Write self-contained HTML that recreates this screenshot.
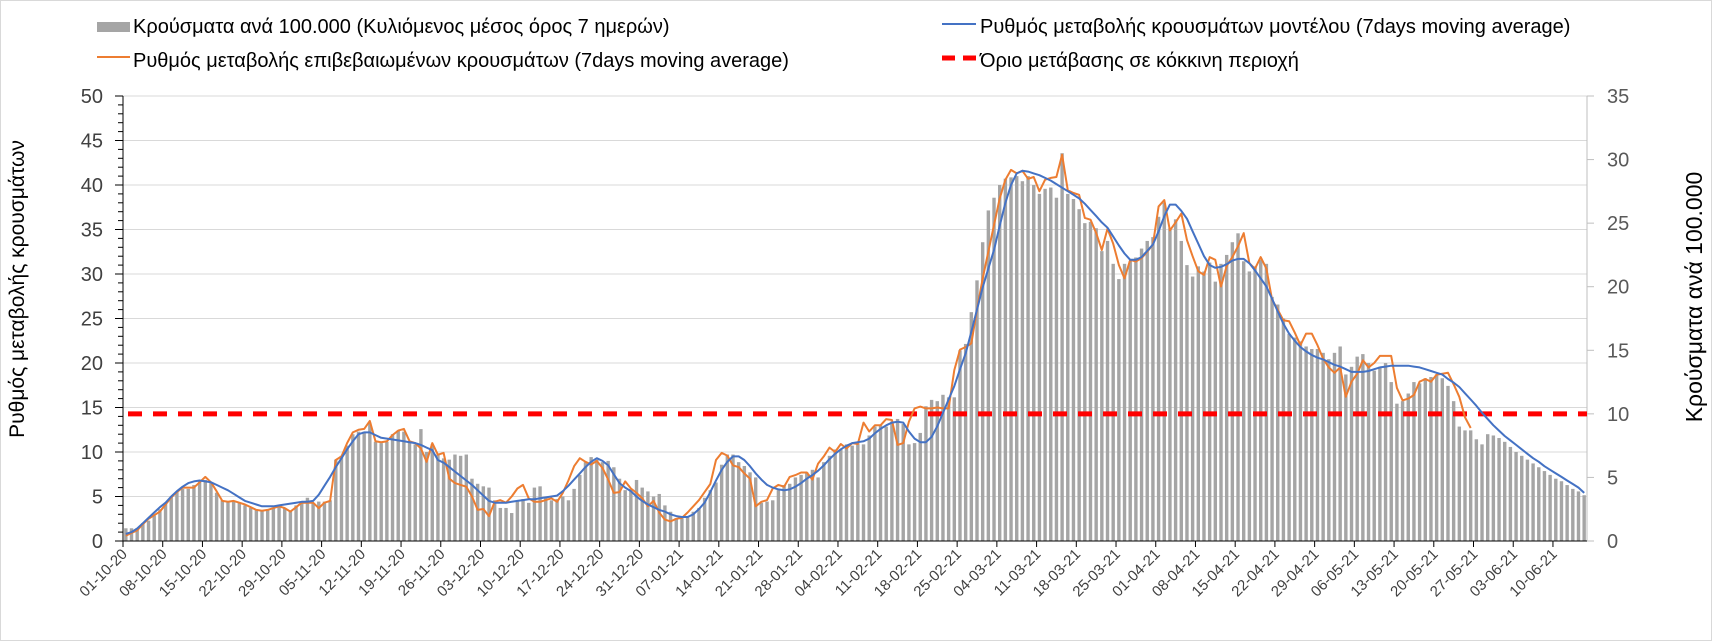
<!DOCTYPE html>
<html><head><meta charset="utf-8"><style>
html,body{margin:0;padding:0;background:#fff;}
svg{display:block;font-family:"Liberation Sans",sans-serif;}
</style></head><body>
<svg id="chart" width="1712" height="641" viewBox="0 0 1712 641" xmlns="http://www.w3.org/2000/svg">
<rect x="0.5" y="0.5" width="1711" height="640" fill="#fff" stroke="#d9d9d9"/>
<g id="grid"></g>
<g id="bars"></g>
<g id="axes"></g>
<g id="lines"></g>
<g font-size="20" fill="#000">
<g><rect x="97" y="22" width="33" height="10" fill="#a5a5a5"/><text x="133" y="33">Κρούσματα ανά 100.000 (Κυλιόμενος μέσος όρος 7 ημερών)</text></g>
<g><line x1="97" y1="57" x2="130" y2="57" stroke="#ed7d31" stroke-width="2"/><text x="133" y="67">Ρυθμός μεταβολής επιβεβαιωμένων κρουσμάτων (7days moving average)</text></g>
<g><line x1="942" y1="24" x2="976" y2="24" stroke="#4472c4" stroke-width="2"/><text x="980" y="33">Ρυθμός μεταβολής κρουσμάτων μοντέλου (7days moving average)</text></g>
<g><line x1="942" y1="58" x2="976" y2="58" stroke="#ff0000" stroke-width="5" stroke-dasharray="13,8"/><text x="980" y="67">Όριο μετάβασης σε κόκκινη περιοχή</text></g>
</g>
<text transform="translate(24,289) rotate(-90)" text-anchor="middle" font-size="21" fill="#000">Ρυθμός μεταβολής κρουσμάτων</text>
<text transform="translate(1702,297) rotate(-90)" text-anchor="middle" font-size="23" fill="#000">Κρούσματα ανά 100.000</text>
</svg>
<script>
const cases = [1.0,1.0,1.0,1.4,1.6,2.0,2.5,2.9,3.5,3.9,
4.1,4.1,4.4,4.8,4.8,4.6,3.8,3.2,3.1,3.1,
3.0,2.8,2.6,2.5,2.4,2.5,2.6,2.7,2.6,2.4,
2.8,3.0,3.4,3.0,3.1,3.1,3.2,6.4,6.7,7.5,
8.4,8.6,8.6,9.3,7.8,7.7,7.8,8.4,8.7,8.6,
7.8,7.6,8.8,7.0,7.6,6.8,6.5,6.4,6.8,6.7,
6.8,4.9,4.5,4.3,4.2,3.2,2.6,2.6,2.2,3.1,
3.3,3.0,4.2,4.3,3.4,3.2,3.3,3.5,3.2,4.1,
5.2,6.2,6.6,6.4,6.2,6.3,5.8,4.9,4.0,4.1,
4.8,4.2,3.9,3.5,3.7,2.8,2.3,1.8,1.8,1.9,
2.3,2.6,3.4,4.0,4.6,6.0,6.8,6.8,6.2,5.9,
5.4,5.0,3.0,3.1,3.2,4.0,4.4,4.5,5.0,5.2,
5.4,5.6,5.0,6.2,6.7,7.2,7.2,7.6,7.5,7.7,
7.6,8.3,9.0,9.1,9.0,9.4,9.6,9.2,7.6,7.7,
8.5,10.6,11.1,11.0,11.5,11.3,11.3,15.0,15.5,18.0,
20.5,23.5,26.0,27.0,28.0,28.5,28.6,28.7,28.3,28.7,
28.0,27.3,27.7,27.8,27.0,30.5,27.3,26.9,26.1,25.0,
25.1,24.6,22.8,23.6,21.8,20.6,21.8,22.0,22.3,23.0,
23.6,23.9,25.5,26.6,24.6,25.3,23.6,21.7,20.8,21.6,
21.2,21.9,20.4,21.8,22.5,23.5,24.2,22.0,21.2,21.6,
22.1,21.8,19.2,18.6,17.5,16.3,16.0,15.7,15.3,15.1,
15.1,14.8,14.3,14.8,15.3,13.1,13.7,14.5,14.7,14.0,
13.4,13.7,14.0,12.5,10.8,11.0,11.6,12.5,12.4,12.8,
12.9,13.1,12.8,12.2,11.0,9.0,8.7,8.7,8.0,7.6,
8.4,8.3,8.1,7.8,7.4,7.0,6.7,6.4,6.1,5.8,
5.5,5.2,4.9,4.7,4.4,4.1,3.9,3.6];
const modelRate = [0.8,1.0,1.4,2.0,2.6,3.2,3.8,4.3,5.0,5.6,
6.1,6.5,6.7,6.8,6.7,6.6,6.3,6.0,5.7,5.3,
4.9,4.5,4.3,4.1,3.9,3.9,3.9,4.0,4.1,4.2,
4.3,4.4,4.4,4.5,5.2,6.2,7.2,8.3,9.3,10.3,
11.2,12.0,12.2,12.2,11.9,11.6,11.5,11.4,11.3,11.2,
11.1,11.0,10.8,10.5,10.2,9.1,8.8,8.3,7.8,7.3,
6.8,6.3,5.7,5.1,4.5,4.3,4.3,4.3,4.4,4.5,
4.6,4.7,4.7,4.8,4.9,5.0,5.1,5.6,6.2,6.9,
7.6,8.3,8.9,9.3,9.0,8.5,7.5,6.5,6.0,5.6,
5.0,4.5,4.1,3.8,3.5,3.3,3.0,2.8,2.7,2.7,
3.0,3.6,4.3,5.5,6.8,8.0,8.9,9.5,9.5,9.1,
8.4,7.6,6.9,6.3,6.0,5.8,5.7,5.8,6.1,6.5,
7.0,7.4,7.9,8.5,9.2,9.8,10.3,10.7,11.0,11.1,
11.2,11.5,12.1,12.6,13.0,13.3,13.4,13.3,12.3,11.5,
11.1,11.1,11.7,12.9,14.4,15.9,17.4,19.3,21.1,23.5,
26.0,28.5,30.6,32.7,35.4,38.0,40.0,41.3,41.6,41.5,
41.3,41.1,40.8,40.5,40.1,39.7,39.3,38.9,38.5,37.9,
37.2,36.5,35.8,35.2,34.2,33.2,32.3,31.6,31.6,31.9,
32.6,33.3,34.8,36.5,37.8,37.8,37.1,36.2,34.8,33.4,
32.0,31.0,30.7,30.8,31.1,31.5,31.7,31.7,31.2,30.4,
29.5,28.6,27.2,25.8,24.4,23.3,22.5,21.8,21.3,20.9,
20.6,20.4,20.1,19.8,19.6,19.3,19.0,19.0,19.0,19.1,
19.3,19.5,19.6,19.7,19.7,19.7,19.7,19.6,19.5,19.3,
19.1,18.9,18.7,18.2,17.8,17.3,16.6,15.9,15.2,14.4,
13.7,13.0,12.4,11.8,11.3,10.8,10.3,9.8,9.3,8.9,
8.4,8.0,7.6,7.2,6.8,6.4,6.0,5.4];
const confirmedRate = [0.6,0.9,1.2,1.9,2.5,2.9,3.3,4.1,4.9,5.5,
6.0,6.0,6.0,6.6,7.2,6.6,5.6,4.5,4.4,4.5,
4.3,4.1,3.8,3.5,3.4,3.5,3.7,3.9,3.7,3.3,
3.8,4.3,4.3,4.3,3.7,4.3,4.5,9.1,9.5,11.0,
12.2,12.5,12.6,13.5,11.2,11.1,11.2,11.9,12.4,12.6,
11.2,11.0,10.4,8.9,11.0,9.7,9.9,7.0,6.5,6.3,
6.1,5.0,3.5,3.6,2.8,4.4,4.6,4.3,5.0,5.9,
6.3,4.8,4.4,4.4,4.6,4.8,4.4,5.4,6.8,8.4,
9.3,8.9,8.6,9.0,8.2,6.9,5.4,5.5,6.7,5.9,
5.4,4.8,3.9,4.5,3.2,2.4,2.2,2.5,2.6,3.2,
3.9,4.6,5.5,6.4,9.1,9.9,9.6,8.5,8.3,7.6,
7.0,3.9,4.4,4.6,5.9,6.3,6.1,7.2,7.4,7.7,
7.7,6.9,8.7,9.5,10.5,10.0,10.9,10.4,11.0,10.9,
13.3,12.3,13.0,13.0,13.7,13.6,10.8,11.0,13.4,14.9,
15.1,14.9,14.9,15.0,14.9,14.9,19.2,21.5,21.8,22.2,
26.0,29.5,32.5,35.5,38.5,40.6,41.7,41.3,41.6,40.7,
40.9,39.3,40.6,40.8,40.9,43.4,39.4,39.1,38.9,36.3,
36.1,34.6,32.7,35.1,33.4,31.0,29.5,31.6,31.4,31.8,
32.5,33.3,37.6,38.3,34.9,35.8,36.8,33.8,32.0,30.3,
29.9,31.9,31.6,28.6,30.9,31.9,33.1,34.6,31.2,30.6,
31.9,30.6,27.1,26.0,24.8,24.7,23.4,22.0,23.3,23.3,
22.0,20.5,19.5,18.9,19.5,16.2,17.9,18.8,20.3,19.5,
20.0,20.8,20.8,20.8,17.2,15.8,16.0,16.4,17.9,18.2,
17.9,18.7,18.8,18.9,17.6,16.2,13.9,12.7];
const redThreshold = [10];
const leftTicks = [0,5,10,15,20,25,30,35,40,45,50];
const rightTicks = [0,5,10,15,20,25,30,35];
const dateLabels = ["01-10-20","08-10-20","15-10-20","22-10-20","29-10-20","05-11-20","12-11-20","19-11-20","26-11-20","03-12-20","10-12-20","17-12-20","24-12-20","31-12-20","07-01-21","14-01-21","21-01-21","28-01-21","04-02-21","11-02-21","18-02-21","25-02-21","04-03-21","11-03-21","18-03-21","25-03-21","01-04-21","08-04-21","15-04-21","22-04-21","29-04-21","06-05-21","13-05-21","20-05-21","27-05-21","03-06-21","10-06-21"];

const NS="http://www.w3.org/2000/svg";
const X0=123, X1=1587, Y0=541, YT=96;
const N=cases.length;
const W=(X1-X0)/N;
const xC=i=>X0+(i+0.5)*W;
const xB=i=>X0+i*W;
const yL=v=>Y0-v*(Y0-YT)/50;
const yR=v=>Y0-v*(Y0-YT)/35;
function mk(tag,attrs,parent){const e=document.createElementNS(NS,tag);for(const k in attrs)e.setAttribute(k,attrs[k]);parent.appendChild(e);return e;}
const grid=document.getElementById('grid'),barsG=document.getElementById('bars'),axes=document.getElementById('axes'),lines=document.getElementById('lines');

leftTicks.forEach(v=>{
  if(v>0){const g=mk('line',{x1:X0,x2:X1,y1:yL(v),y2:yL(v),stroke:'#d9d9d9','stroke-width':1},grid);
  
  }
  const t=mk('text',{x:103,y:yL(v)+7,'text-anchor':'end','font-size':20,fill:'#404040'},axes);
  t.textContent=v;
  
  
  mk('line',{x1:X0-8,x2:X0,y1:yL(v),y2:yL(v),stroke:'#000','stroke-width':1},axes);
});
for(let v=0;v<50;v++){ if(v%5) mk('line',{x1:X0-5,x2:X0,y1:yL(v),y2:yL(v),stroke:'#000','stroke-width':1},axes); }

cases.forEach((v,i)=>{
  const r=mk('rect',{x:xC(i)-1.7,y:yR(v),width:3.4,height:Y0-yR(v),fill:'#a5a5a5'},barsG);
  
  
});

rightTicks.forEach(v=>{
  mk('line',{x1:X1,x2:X1+7,y1:yR(v),y2:yR(v),stroke:'#bfbfbf','stroke-width':1},axes);
  const t=mk('text',{x:1607,y:yR(v)+7,'font-size':20,fill:'#595959'},axes);
  t.textContent=v;
  
  
});
const ra=mk('line',{x1:X1,x2:X1,y1:YT,y2:Y0,stroke:'#bfbfbf','stroke-width':1},axes);


const la=mk('line',{x1:X0,x2:X0,y1:YT,y2:Y0,stroke:'#000','stroke-width':1},axes);


const xa=mk('line',{x1:X0,x2:X1,y1:Y0,y2:Y0,stroke:'#000','stroke-width':1},axes);


dateLabels.forEach((s,k)=>{
  const x=xB(k*7);
  mk('line',{x1:x,x2:x,y1:Y0,y2:Y0+6,stroke:'#000','stroke-width':1},axes);
  const t=mk('text',{x:0,y:0,'text-anchor':'end','font-size':15,fill:'#404040',transform:`translate(${x+5},${Y0+14}) rotate(-45)`},axes);
  t.textContent=s;
  
  
});

const red=mk('line',{x1:X0+5,x2:X1,y1:yR(redThreshold[0]),y2:yR(redThreshold[0]),stroke:'#ff0000','stroke-width':5,'stroke-dasharray':'14,11'},lines);



function path(arr,color,name){
  const d=arr.map((v,i)=>(i?'L':'M')+xC(i).toFixed(1)+','+yL(v).toFixed(1)).join('');
  const p=mk('path',{d:d,fill:'none',stroke:color,'stroke-width':2,'stroke-linejoin':'round'},lines);
  
  
}
path(confirmedRate,'#ed7d31','confirmed-rate-line');
path(modelRate,'#4472c4','model-rate-line');
</script>
</body></html>
